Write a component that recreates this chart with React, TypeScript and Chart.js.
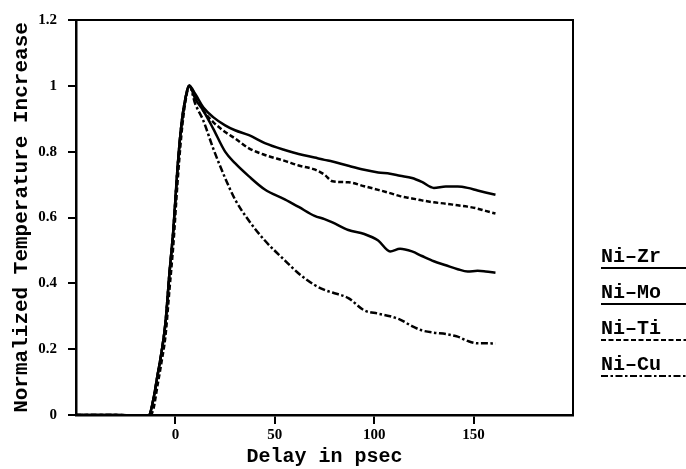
import React, { useEffect, useRef } from "react";
import { Chart, registerables } from "chart.js";

Chart.register(...registerables);

const times = [-50, -30, -22, -18, -15, -13, -11, -9, -7, -5, -3, -1, 1, 3, 5, 7, 10, 14, 19, 25, 30, 37, 45, 55, 62, 70, 75, 79, 87, 95, 102, 108, 113, 119, 124, 130, 136, 142, 147, 152, 156, 161];

const niZr = [0, 0, -0.003, -0.01, -0.008, 0.0, 0.05, 0.12, 0.19, 0.28, 0.43, 0.565, 0.745, 0.88, 0.96, 1.0, 0.975, 0.935, 0.905, 0.88, 0.865, 0.85, 0.826, 0.805, 0.793, 0.782, 0.775, 0.77, 0.757, 0.745, 0.737, 0.733, 0.727, 0.72, 0.708, 0.69, 0.694, 0.694, 0.69, 0.682, 0.676, 0.669];
const niMo = [0, 0, -0.003, -0.01, -0.008, 0.0, 0.05, 0.12, 0.19, 0.28, 0.43, 0.565, 0.745, 0.88, 0.96, 1.0, 0.96, 0.925, 0.87, 0.8, 0.765, 0.725, 0.685, 0.655, 0.632, 0.605, 0.595, 0.585, 0.562, 0.55, 0.53, 0.497, 0.505, 0.497, 0.483, 0.467, 0.455, 0.443, 0.436, 0.438, 0.436, 0.432];
const niTi = [0, 0, -0.002, -0.006, -0.006, -0.004, 0.02, 0.09, 0.16, 0.24, 0.38, 0.52, 0.7, 0.85, 0.95, 1.0, 0.97, 0.925, 0.89, 0.86, 0.84, 0.81, 0.79, 0.772, 0.758, 0.746, 0.73, 0.71, 0.707, 0.695, 0.684, 0.674, 0.665, 0.658, 0.652, 0.646, 0.642, 0.637, 0.633, 0.627, 0.62, 0.612];
const niCu = [0, 0, -0.003, -0.01, -0.008, 0.0, 0.05, 0.12, 0.19, 0.28, 0.43, 0.565, 0.745, 0.88, 0.96, 1.0, 0.945, 0.895, 0.81, 0.72, 0.655, 0.59, 0.53, 0.47, 0.43, 0.395, 0.38, 0.372, 0.355, 0.318, 0.308, 0.3, 0.29, 0.27, 0.257, 0.25, 0.246, 0.238, 0.225, 0.218, 0.218, 0.217];

const seriesLabels = ["Ni\u2013Zr", "Ni\u2013Mo", "Ni\u2013Ti", "Ni\u2013Cu"];
const seriesValues = [niZr, niMo, niTi, niCu];
const seriesDashes: number[][] = [[], [], [5, 2.5], [7, 2.5, 2.5, 2.5]];

const xTickValues = [0, 50, 100, 150];

const framePlugin = {
  id: "frameAndLegend",
  afterDraw(chart: any) {
    const { ctx, chartArea } = chart;
    ctx.save();
    ctx.strokeStyle = "#000";
    ctx.lineWidth = 2;
    ctx.beginPath();
    ctx.moveTo(chartArea.left, chartArea.top);
    ctx.lineTo(chartArea.right, chartArea.top);
    ctx.lineTo(chartArea.right, chartArea.bottom);
    ctx.stroke();

    // legend at right, text with underline in the dataset's style
    const lx = chartArea.right + 28;
    const lineEnd = chart.width;
    const firstY = 268;
    const step = 36;
    ctx.font = "bold 20px 'Liberation Mono', 'DejaVu Sans Mono', monospace";
    ctx.fillStyle = "#000";
    ctx.textBaseline = "alphabetic";
    ctx.textAlign = "left";
    chart.data.datasets.forEach((ds: any, i: number) => {
      const y = firstY + i * step;
      ctx.fillText(ds.label, lx, y - 6);
      ctx.setLineDash(ds.borderDash || []);
      ctx.lineWidth = 2;
      ctx.beginPath();
      ctx.moveTo(lx, y);
      ctx.lineTo(lineEnd, y);
      ctx.stroke();
    });
    ctx.restore();
  },
};

export default function App() {
  const ref = useRef<HTMLCanvasElement | null>(null);
  useEffect(() => {
    if (!ref.current) return;
    const chart = new Chart(ref.current, {
      type: "line",
      data: {
        datasets: seriesLabels.map((label, i) => ({
          label,
          data: times.map((t, j) => ({ x: t, y: seriesValues[i][j] })),
          borderColor: "#000",
          borderWidth: 2.5,
          borderDash: seriesDashes[i],
          pointRadius: 0,
          fill: false,
          tension: 0.4,
          cubicInterpolationMode: "monotone" as const,
        })),
      },
      options: {
        animation: false,
        responsive: false,
        layout: { padding: { top: 14, right: 113, left: 0, bottom: 0 } },
        plugins: { legend: { display: false }, tooltip: { enabled: false } },
        scales: {
          x: {
            type: "linear",
            min: -50,
            max: 200,
            afterBuildTicks: (scale: any) => {
              scale.ticks = xTickValues.map((v) => ({ value: v }));
            },
            afterFit: (scale: any) => {
              scale.height = 54;
            },
            border: { color: "#000", width: 2.5 },
            grid: { drawOnChartArea: false, drawTicks: true, tickLength: 9, color: "#000", lineWidth: 2 },
            ticks: {
              color: "#000",
              padding: 2,
              maxRotation: 0,
              font: { family: "'Liberation Serif', serif", size: 15, weight: "bold" },
            },
            title: {
              display: true,
              text: "Delay in psec",
              color: "#000",
              padding: { top: 0, bottom: 0 },
              font: { family: "'Liberation Mono', monospace", size: 20, weight: "bold" },
            },
          },
          y: {
            type: "linear",
            min: 0,
            max: 1.2,
            afterFit: (scale: any) => {
              scale.width = 76;
            },
            border: { color: "#000", width: 2.5 },
            grid: { drawOnChartArea: false, drawTicks: true, tickLength: 8, color: "#000", lineWidth: 2 },
            ticks: {
              stepSize: 0.2,
              color: "#000",
              padding: 11,
              font: { family: "'Liberation Serif', serif", size: 15, weight: "bold" },
              callback: (v: any) => String(Math.round(Number(v) * 10) / 10),
            },
            title: {
              display: true,
              text: "Normalized Temperature Increase",
              color: "#000",
              padding: { top: 9, bottom: 0 },
              font: { family: "'Liberation Mono', monospace", size: 21, weight: "bold" },
            },
          },
        },
      },
      plugins: [framePlugin],
    });
    return () => chart.destroy();
  }, []);
  return (
    <div style={{ position: "fixed", left: 0, top: 0, width: 686, height: 469, background: "#fff" }}>
      <canvas ref={ref} width={686} height={469} style={{ display: "block" }} />
    </div>
  );
}
